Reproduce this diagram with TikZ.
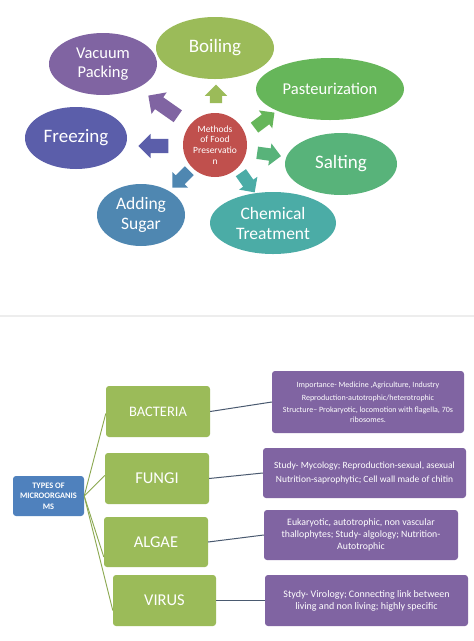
\documentclass[tikz,border=0pt]{standalone}
\usepackage{fontspec}
\setmainfont{Carlito}
\usetikzlibrary{shapes.geometric,shapes.arrows,calc}
\definecolor{cVac}{HTML}{8064A2}
\definecolor{cBoil}{HTML}{9BBB59}
\definecolor{cPast}{HTML}{66B65A}
\definecolor{cFreeze}{HTML}{5B5EAA}
\definecolor{cSalt}{HTML}{58B37A}
\definecolor{cSugar}{HTML}{4F87B1}
\definecolor{cChem}{HTML}{4BACA6}
\definecolor{cCenter}{HTML}{C0504D}
\definecolor{cGreen}{HTML}{9BBB59}
\definecolor{cPurple}{HTML}{8064A2}
\definecolor{cBlue}{HTML}{4F81BD}
\definecolor{cLink}{HTML}{4A5A70}
\definecolor{cDiv}{HTML}{EDEDED}
\begin{document}
\begin{tikzpicture}[x=1pt,y=-1pt,
  oval/.style={ellipse, draw=none, text=white, align=center, inner sep=0pt},
  barrow/.style={single arrow, draw=none, inner sep=6pt, single arrow head extend=5pt, minimum height=#1},
  gbox/.style={rectangle, rounded corners=3pt, fill=cGreen, text=white, inner sep=0pt, minimum width=104pt, minimum height=51pt, font=\fontsize{16.5}{19}\selectfont},
  pbox/.style={rectangle, rounded corners=3pt, fill=cPurple, text=white, inner sep=0pt, align=center},
  glink/.style={draw=cGreen!90!black, line width=0.9pt},
  plink/.style={draw=cLink, line width=1pt}
]
\fill[white] (0,0) rectangle (474,641);
\useasboundingbox (0,0) rectangle (474,641);

% ---------- Top: methods of food preservation ----------
\node[oval, fill=cVac, minimum width=108pt, minimum height=62pt, font=\fontsize{16.5}{18.3}\selectfont] (vac) at (103,64) {Vacuum\\Packing};
\node[oval, fill=cBoil, minimum width=118pt, minimum height=62pt, font=\fontsize{19}{21}\selectfont] (boil) at (215,48) {Boiling};
\node[oval, fill=cPast, minimum width=148pt, minimum height=62pt, font=\fontsize{16.5}{19}\selectfont] (past) at (330,89) {Pasteurization};
\node[oval, fill=cFreeze, minimum width=102pt, minimum height=62pt, font=\fontsize{19}{21}\selectfont] (freeze) at (76,138) {Freezing};
\node[oval, fill=cSalt, minimum width=112pt, minimum height=62pt, font=\fontsize{19}{21}\selectfont] (salt) at (341,164) {Salting};
\node[oval, fill=cSugar, minimum width=88pt, minimum height=62pt, font=\fontsize{17.5}{20}\selectfont] (sugar) at (141,215) {Adding\\Sugar};
\node[oval, fill=cChem, minimum width=126pt, minimum height=62pt, font=\fontsize{17.5}{20}\selectfont] (chem) at (273,223) {Chemical\\Treatment};
\node[circle, fill=cCenter, text=white, align=center, inner sep=0pt, minimum size=64pt, font=\fontsize{9.5}{10.7}\selectfont] (center) at (215,145) {Methods\\of Food\\Preservatio\\n};

\node[barrow=17pt, fill=cBoil, rotate=90] (aboil) at (216,97) {};
\node[barrow=36pt, fill=cVac, rotate=145, inner sep=7pt, single arrow head extend=6pt] (avac) at (166,108) {};
\node[barrow=30pt, fill=cFreeze, rotate=180, inner sep=7pt] (afreeze) at (157,146) {};
\node[barrow=25pt, fill=cPast, rotate=37] (apast) at (262,122) {};
\node[barrow=24pt, fill=cSalt, rotate=-8] (asalt) at (266,154) {};
\node[barrow=24pt, fill=cSugar, rotate=225] (asugar) at (183,177) {};
\node[barrow=24pt, fill=cChem, rotate=-55] (achem) at (246,180) {};

% ---------- Divider ----------
\coordinate (divL) at (0,316);
\coordinate (divR) at (474,316);
\draw[cDiv, line width=2pt] (divL) -- (divR);

% ---------- Bottom: types of microorganisms ----------
\node[rectangle, rounded corners=3pt, fill=cBlue, text=white, align=center, inner sep=0pt, minimum width=71pt, minimum height=40pt, font=\bfseries\fontsize{8.4}{10.3}\selectfont] (types) at (48.5,496) {TYPES OF\\MICROORGANIS\\MS};

\node[gbox, font=\fontsize{14.5}{17}\selectfont] (bact) at (158,411.5) {BACTERIA};
\node[gbox] (fungi) at (157,478.5) {FUNGI};
\node[gbox, minimum height=50pt] (algae) at (156,542) {ALGAE};
\node[gbox, minimum width=103pt] (virus) at (164.5,600.5) {VIRUS};

\node[pbox, minimum width=192pt, minimum height=62pt, font=\fontsize{8}{9.2}\selectfont] (p1) at (368,402)
  {Importance- Medicine ,Agriculture, Industry\\[3.5pt]Reproduction-autotrophic/heterotrophic\\[3.5pt]Structure-- Prokaryotic, locomotion with flagella, 70s\\ribosomes.};
\node[pbox, minimum width=203pt, minimum height=50pt, font=\fontsize{9.5}{11.5}\selectfont] (p2) at (364.5,473)
  {Study- Mycology; Reproduction-sexual, asexual\\[2.5pt]Nutrition-saprophytic; Cell wall made of chitin};
\node[pbox, minimum width=194pt, minimum height=50pt, font=\fontsize{9.8}{11.7}\selectfont] (p3) at (361,535)
  {Eukaryotic, autotrophic, non vascular\\thallophytes; Study- algology; Nutrition-\\Autotrophic};
\node[pbox, minimum width=203pt, minimum height=51pt, font=\fontsize{10}{12}\selectfont] (p4) at (366.5,600.5)
  {Stydy- Virology; Connecting link between\\living and non living; highly specific};

\draw[glink] (types.east) -- ([yshift=-2pt]bact.west);
\draw[glink] (types.east) -- ([yshift=3pt]fungi.west);
\draw[glink] (types.east) -- ([yshift=-15pt]algae.west);
\draw[glink] (types.east) -- ([yshift=-10pt]virus.west);

\draw[plink] (bact.east) -- (p1.west);
\draw[plink] (fungi.east) -- (p2.west);
\draw[plink] (algae.east) -- (p3.west);
\draw[plink] (virus.east) -- (p4.west);
\end{tikzpicture}
\end{document}
